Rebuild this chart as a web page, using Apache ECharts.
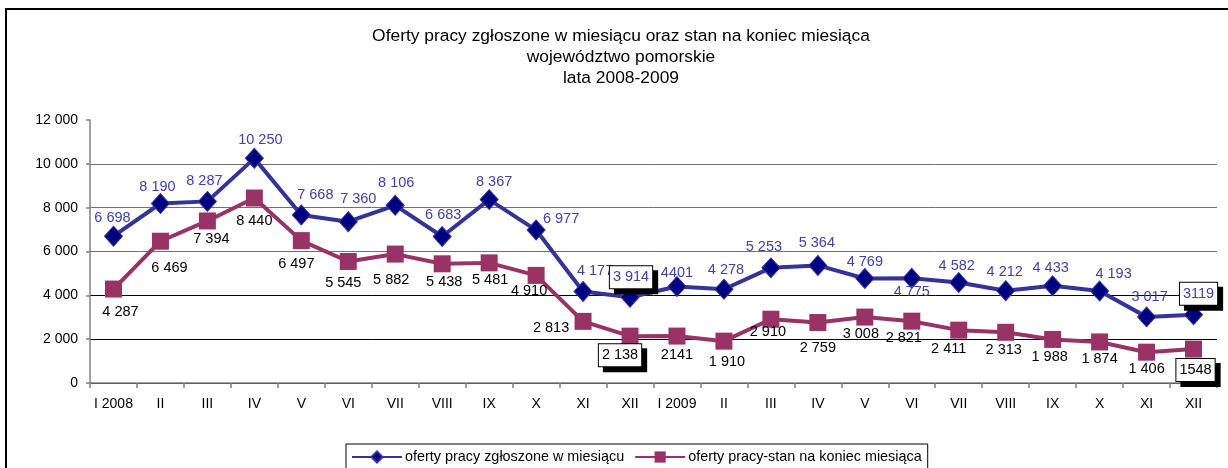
<!DOCTYPE html>
<html lang="pl">
<head>
    <meta charset="utf-8">
    <title>Oferty pracy - województwo pomorskie</title>
    <script src="https://cdn.jsdelivr.net/npm/echarts@6/dist/echarts.min.js"></script>
    <style>
        html, body { margin: 0; padding: 0; background: #fff; }
        #chart { width: 1228px; height: 468px; }
    </style>
</head>
<body>
    <div id="chart"></div>
    <script>
        // miesiace 2008-2009
        var months = ['I 2008', 'II', 'III', 'IV', 'V', 'VI', 'VII', 'VIII', 'IX', 'X', 'XI', 'XII',
                      'I 2009', 'II', 'III', 'IV', 'V', 'VI', 'VII', 'VIII', 'IX', 'X', 'XI', 'XII'];
        var yTicks = [0, 2000, 4000, 6000, 8000, 10000, 12000];

        // oferty pracy zgloszone w miesiacu
        var zgloszone = [6698, 8190, 8287, 10250, 7668, 7360, 8106, 6683, 8367, 6977, 4177, 3914,
                         4401, 4278, 5253, 5364, 4769, 4775, 4582, 4212, 4433, 4193, 3017, 3119];
        // oferty pracy - stan na koniec miesiaca
        var stan = [4287, 6469, 7394, 8440, 6497, 5545, 5882, 5438, 5481, 4910, 2813, 2138,
                    2141, 1910, 2910, 2759, 3008, 2821, 2411, 2313, 1988, 1874, 1406, 1548];

        var plainIdx = [12, 23];   // etykiety bez spacji tysiecy
        var boxedIdx = [11, 23];   // etykiety w ramce

        // przesuniecia etykiet wzgledem punktu [dx, dy]
        var blueOff = [[-1,-18],[-3,-17],[-3,-20],[6,-18],[14,-20],[10,-23],[1,-22],[1,-22],[5,-18],[25,-11],[12,-20],[1,-20],
                       [0,-14],[2,-19],[-7,-21],[-1,-22],[0,-16],[0,14],[-2,-17],[-1,-19],[-2,-18],[14,-17],[3,-20],[5,-21]];
        var redOff = [[7,23],[9,27],[4,18],[0,23],[-5,23],[-5,22],[-4,26],[2,18],[1,17],[-7,16],[-32,7],[-10,19],
                      [0,19],[3,21],[-3,13],[0,25],[-4,17],[-8,17],[-10,19],[-2,18],[-3,18],[0,17],[0,17],[2,21]];

        function fmt(v, i) {
            if (plainIdx.indexOf(i) >= 0) return String(v);
            return String(v).replace(/\B(?=(\d{3})+(?!\d))/g, ' ');
        }

        function buildData(values, offs, color) {
            return values.map(function (v, i) {
                var lbl = {
                    show: true,
                    position: 'inside',
                    offset: offs[i],
                    color: color,
                    fontSize: 14.5,
                    fontFamily: 'Liberation Sans',
                    formatter: fmt(v, i)
                };
                if (boxedIdx.indexOf(i) >= 0) {
                    lbl.backgroundColor = '#fff';
                    lbl.borderColor = '#000';
                    lbl.borderWidth = 1;
                    lbl.padding = [4, 3, 3, 3];
                    lbl.shadowColor = '#000';
                    lbl.shadowBlur = 0;
                    lbl.shadowOffsetX = 5;
                    lbl.shadowOffsetY = 5;
                }
                return { value: v, label: lbl };
            });
        }

        var myChart = echarts.init(document.getElementById('chart'));
        var option = {
            backgroundColor: '#fff',
            animation: false,
            textStyle: { fontFamily: 'Liberation Sans' },
            title: {
                text: 'Oferty pracy zgłoszone w miesiącu oraz stan na koniec miesiąca\nwojewództwo pomorskie\nlata 2008-2009',
                left: 616,
                top: 21,
                textAlign: 'center',
                textStyle: {
                    fontFamily: 'Liberation Sans',
                    fontSize: 17.4,
                    fontWeight: 'normal',
                    color: '#000',
                    lineHeight: 21
                }
            },
            graphic: [{
                type: 'rect',
                shape: { x: 6, y: 9, width: 1400, height: 600 },
                style: { fill: 'none', stroke: '#000', lineWidth: 2 },
                silent: true
            }],
            legend: {
                left: 346,
                top: 444,
                padding: [6, 6, 6, 5],
                itemWidth: 50,
                itemHeight: 14,
                itemGap: 10,
                borderColor: '#000',
                borderWidth: 1,
                textStyle: { fontFamily: 'Liberation Sans', fontSize: 14.4, color: '#000', padding: [0, 0, 0, -2] },
                data: ['oferty pracy zgłoszone w miesiącu', 'oferty pracy-stan na koniec miesiąca']
            },
            grid: {
                left: 90,
                right: 11,
                top: 120,
                bottom: 85,
                containLabel: false
            },
            xAxis: {
                type: 'category',
                data: months,
                boundaryGap: true,
                axisLine: { lineStyle: { color: '#808080', width: 1.5 } },
                axisTick: { show: true, interval: 0, length: 5, lineStyle: { color: '#808080', width: 1.5 } },
                axisLabel: { interval: 0, margin: 14, color: '#000', fontSize: 14, fontFamily: 'Liberation Sans' }
            },
            yAxis: {
                type: 'value',
                min: yTicks[0],
                max: yTicks[yTicks.length - 1],
                interval: 2000,
                axisLine: { show: true, lineStyle: { color: '#808080', width: 1.5 } },
                axisTick: { show: true, length: 4, lineStyle: { color: '#808080', width: 1.5 } },
                axisLabel: {
                    margin: 12,
                    color: '#000',
                    fontSize: 14,
                    fontFamily: 'Liberation Sans',
                    formatter: function (v) { return String(v).replace(/\B(?=(\d{3})+(?!\d))/g, ' '); }
                },
                splitLine: {
                    show: true,
                    showMaxLine: false,
                    lineStyle: { color: ['#000', '#000', '#000', '#707070', '#707070', '#707070', '#707070'], width: 1 }
                }
            },
            series: [
                {
                    name: 'oferty pracy zgłoszone w miesiącu',
                    type: 'line',
                    z: 3,
                    symbol: 'diamond',
                    symbolSize: [18, 20],
                    lineStyle: { color: '#333399', width: 4 },
                    itemStyle: { color: '#000080', borderColor: '#333399', borderWidth: 1 },
                    data: buildData(zgloszone, blueOff, '#4040b0')
                },
                {
                    name: 'oferty pracy-stan na koniec miesiąca',
                    type: 'line',
                    z: 2,
                    symbol: 'rect',
                    symbolSize: 17,
                    lineStyle: { color: '#993366', width: 4 },
                    itemStyle: { color: '#993366' },
                    data: buildData(stan, redOff, '#000')
                }
            ]
        };
        myChart.setOption(option);
    </script>
</body>
</html>
